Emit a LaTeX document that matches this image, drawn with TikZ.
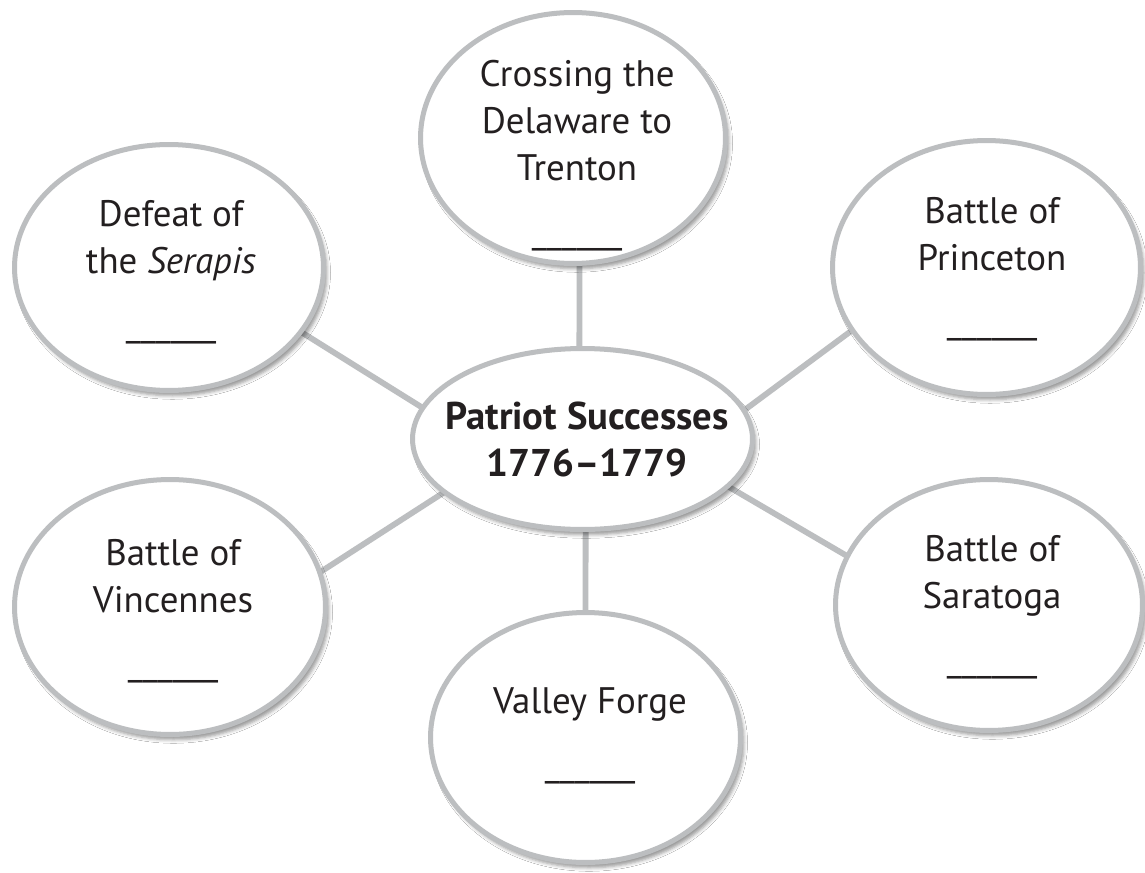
\documentclass[tikz,border=0pt]{standalone}
\usepackage{fontspec}
\setmainfont{PT Sans}
\usetikzlibrary{shapes.geometric,shadows.blur}
\definecolor{rim}{RGB}{188,190,192}
\definecolor{ink}{RGB}{35,31,32}
\pgfdeclarelayer{background}
\pgfsetlayers{background,main}
\newcommand{\blank}{\_\_\_\_\_\_}
\begin{document}
\begin{tikzpicture}[x=0.02cm,y=-0.02cm,
  bubble/.style={ellipse, draw=rim, line width=2.85pt, fill=white,
    inner sep=0pt, outer sep=0pt,
    blur shadow={shadow xshift=2pt, shadow yshift=-3pt,
      shadow blur radius=2pt, shadow opacity=40}},
  link/.style={draw=rim, line width=3.3pt},
  caption/.style={anchor=base, align=center, text=ink, inner sep=0pt,
    font=\fontsize{21}{26.7}\selectfont},
  hub/.style={caption, font=\fontsize{22}{26.7}\selectfont\bfseries}]
\useasboundingbox (0,0) rectangle (1145,872);

% outer bubbles
\node[bubble, minimum width=6.1cm,  minimum height=5.02cm] (cross)   at (573,138)   {};
\node[bubble, minimum width=6.18cm, minimum height=4.92cm] (serapis) at (169,267.5) {};
\node[bubble, minimum width=6.16cm, minimum height=5.08cm] (prince)  at (986.5,267.5) {};
\node[bubble, minimum width=6.22cm, minimum height=5.1cm]  (vinc)    at (170,607)   {};
\node[bubble, minimum width=6.2cm,  minimum height=5.0cm]  (valley)  at (585.5,737.5) {};
\node[bubble, minimum width=6.14cm, minimum height=5.02cm] (sara)    at (989,605)   {};
% central bubble
\node[bubble, minimum width=6.8cm,  minimum height=3.62cm] (hub)     at (582.5,439) {};

% captions (anchored at the baseline of their last line)
\node[caption] (crossT)   at (577,243) {Crossing the\\Delaware to\\Trenton\\[9pt]\blank};
\node[caption] (serapisT) at (171,336) {Defeat of\\the \textit{Serapis}\\[9pt]\blank};
\node[caption] (princeT)  at (992,333) {Battle of\\Princeton\\[9pt]\blank};
\node[caption] (vincT)    at (173,675) {Battle of\\Vincennes\\[9pt]\blank};
\node[caption] (valleyT)  at (590,776) {Valley Forge\\[9pt]\blank};
\node[caption] (saraT)    at (992,671) {Battle of\\Saratoga\\[9pt]\blank};
\node[hub]     (hubT)     at (587,476) {Patriot Successes\\1776–1779};

% white page and spokes behind the bubbles
\begin{pgfonlayer}{background}
  \fill[white] (0,0) rectangle (1145,872);
  \draw[link] (hub.92.2)  -- (cross.-87.3);
  \draw[link] (hub.-88.4) -- (valley.90);
  \draw[link] (hub.10.9)  -- (prince.205);
  \draw[link] (hub.-18.9) -- (sara.161.9);
  \draw[link] (hub.169.2) -- (serapis.-26.9);
  \draw[link] (hub.201.5) -- (vinc.13.8);
\end{pgfonlayer}
\end{tikzpicture}
\end{document}
